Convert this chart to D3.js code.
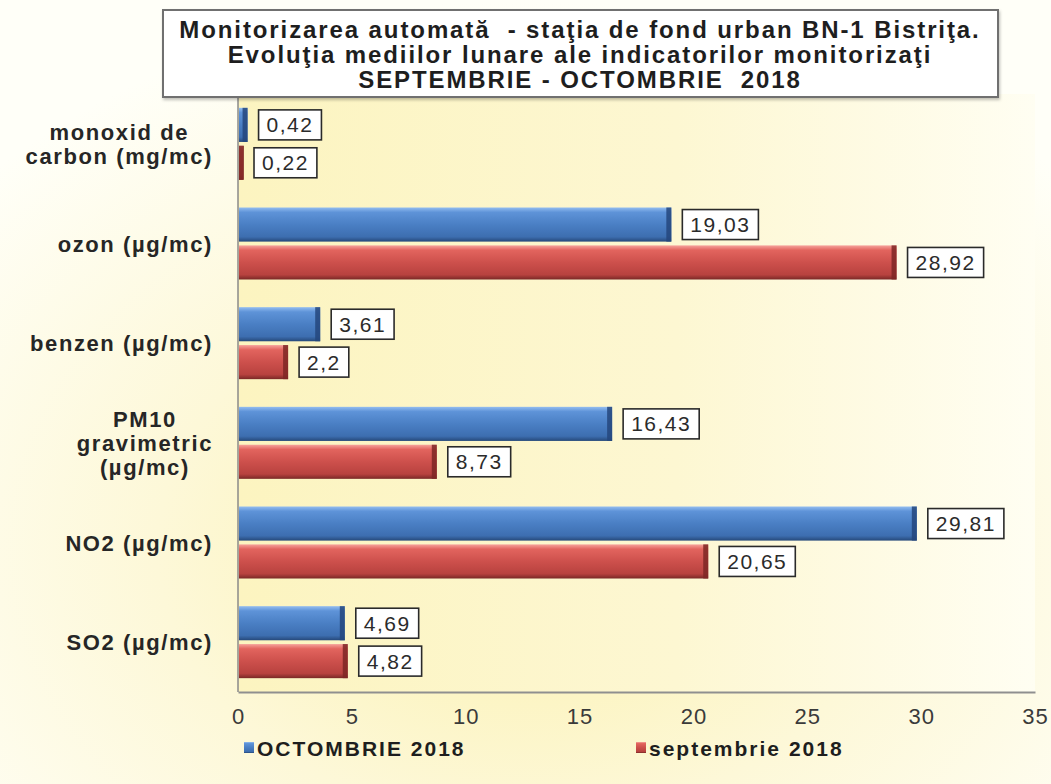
<!DOCTYPE html>
<html>
<head>
<meta charset="utf-8">
<script src="https://cdn.jsdelivr.net/npm/d3@7"></script>
<style>
   body { margin: 0; background: #fffef4; }
   svg { display: block; font-family: "Liberation Sans", Arial, sans-serif; }
</style>
</head>
<body>
<svg id="chart" width="1051" height="784"></svg>
<script>
// DATA
var categories = ['monoxid de\ncarbon (mg/mc)', 'ozon (µg/mc)', 'benzen (µg/mc)',
   'PM10\ngravimetric\n(µg/mc)', 'NO2 (µg/mc)', 'SO2 (µg/mc)'];
var seriesNames = ['OCTOMBRIE 2018', 'septembrie 2018'];
var octombrie = [0.42, 19.03, 3.61, 16.43, 29.81, 4.69];
var septembrie = [0.22, 28.92, 2.2, 8.73, 20.65, 4.82];
var xTicks = [0, 5, 10, 15, 20, 25, 30, 35];
var titleLines = ['Monitorizarea automată  - staţia de fond urban BN-1 Bistriţa.',
   'Evoluţia mediilor lunare ale indicatorilor monitorizaţi',
   'SEPTEMBRIE - OCTOMBRIE  2018'];

var svg = d3.select('#chart');
var W = +svg.attr('width'), H = +svg.attr('height');
var plot = {left: 238, right: 1035, top: 94, bottom: 692};

var defs = svg.append('defs');

// background
var bg = defs.append('radialGradient').attr('id', 'bg')
   .attr('cx', '0.5').attr('cy', '0.7').attr('r', '0.7');
bg.append('stop').attr('offset', '0%').attr('stop-color', '#fbf1ae');
bg.append('stop').attr('offset', '50%').attr('stop-color', '#fdf8d8');
bg.append('stop').attr('offset', '100%').attr('stop-color', '#fffff8');

var plotBg = defs.append('linearGradient').attr('id', 'plotbg')
   .attr('x1', 0).attr('x2', 1).attr('y1', 0).attr('y2', 0);
plotBg.append('stop').attr('offset', '0%').attr('stop-color', '#fcf4c0');
plotBg.append('stop').attr('offset', '55%').attr('stop-color', '#fdf7d2');
plotBg.append('stop').attr('offset', '100%').attr('stop-color', '#fffef2');

// bar gradients (3D look)
var barStyles = [
   {id: 'gBlue', stops: ['#93bdf0', '#5e93d8', '#4a7fc4', '#3d6eb0', '#26497a'], cap: '#24467c'},
   {id: 'gRed', stops: ['#f6a39c', '#e2645e', '#cd504c', '#b8423f', '#7a2826'], cap: '#7e2725'}
];
barStyles.forEach(function (s) {
   var g = defs.append('linearGradient').attr('id', s.id)
      .attr('x1', 0).attr('x2', 0).attr('y1', 0).attr('y2', 1);
   [0, 0.14, 0.5, 0.86, 1].forEach(function (o, i) {
      g.append('stop').attr('offset', o).attr('stop-color', s.stops[i]);
   });
});

var shadow = defs.append('filter').attr('id', 'shadow')
   .attr('x', '-5%').attr('y', '-5%').attr('width', '110%').attr('height', '120%');
shadow.append('feDropShadow').attr('dx', 1).attr('dy', 2).attr('stdDeviation', 1.5)
   .attr('flood-color', '#000').attr('flood-opacity', 0.25);

svg.append('rect').attr('width', W).attr('height', H).attr('fill', 'url(#bg)');

svg.append('rect')
   .attr('x', plot.left).attr('y', plot.top)
   .attr('width', plot.right - plot.left).attr('height', plot.bottom - plot.top)
   .attr('fill', 'url(#plotbg)');

// SCALES
var x = d3.scaleLinear().domain([0, 35]).range([plot.left, plot.right]);
var y = d3.scaleBand().domain(categories).range([plot.top, plot.bottom]);
var sub = d3.scaleBand().domain(seriesNames)
   .range([y.bandwidth() / 2 - 36, y.bandwidth() / 2 + 36]).paddingInner(0.1);

var rows = categories.map(function (c, i) {
   return [
      {cat: c, key: seriesNames[0], value: octombrie[i], style: barStyles[0]},
      {cat: c, key: seriesNames[1], value: septembrie[i], style: barStyles[1]}
   ];
});
var bars = d3.merge(rows);

// BARS
var barG = svg.append('g').selectAll('g.bar').data(bars).enter().append('g')
   .attr('class', 'bar')
   .attr('transform', function (d) {
      return 'translate(0,' + (y(d.cat) + sub(d.key)) + ')';
   });

barG.append('rect')
   .attr('x', x(0) + 1)
   .attr('width', function (d) { return Math.max(2, x(d.value) - x(0) - 1); })
   .attr('height', sub.bandwidth())
   .attr('fill', function (d) { return 'url(#' + d.style.id + ')'; });

barG.append('rect')
   .attr('x', function (d) { return Math.max(x(0) + 1, x(d.value) - 5); })
   .attr('width', function (d) { return Math.min(5, x(d.value) - x(0)); })
   .attr('height', sub.bandwidth())
   .attr('fill', function (d) { return d.style.cap; })
   .attr('opacity', 0.85);

// VALUE LABELS
var lab = barG.append('g')
   .attr('transform', function (d) {
      return 'translate(' + (x(d.value) + 11) + ',' + (sub.bandwidth() / 2) + ')';
   });
lab.append('rect')
   .attr('y', -15).attr('height', 30)
   .attr('fill', '#fff').attr('stroke', '#2a2a2a').attr('stroke-width', 1.6);
var labText = lab.append('text')
   .attr('y', 7.5)
   .attr('text-anchor', 'middle')
   .style('font-size', '21px').style('letter-spacing', '1.5px').attr('fill', '#2b2b2b')
   .text(function (d) { return String(d.value).replace('.', ','); });
labText.each(function () {
   var w = this.getComputedTextLength() + 16;
   d3.select(this).attr('x', w / 2);
   d3.select(this.parentNode).select('rect').attr('width', w);
});

// AXES
svg.append('line')
   .attr('x1', plot.left).attr('x2', plot.left)
   .attr('y1', plot.top).attr('y2', plot.bottom)
   .attr('stroke', '#8a8a8a').attr('stroke-width', 1.5);

var xAxis = d3.axisBottom(x).tickValues(xTicks).tickSize(0).tickPadding(16)
   .tickFormat(d3.format('d'));
var xg = svg.append('g')
   .attr('transform', 'translate(0,' + plot.bottom + ')')
   .call(xAxis);
xg.select('.domain').attr('stroke', '#8f8f8f').attr('stroke-width', 2);
xg.selectAll('.tick text')
   .style('font-size', '22px').style('font-family', '"Liberation Sans", Arial, sans-serif')
   .style('letter-spacing', '1px').attr('fill', '#3a3a3a');

// category labels: block right-aligned, lines centred in block
var catG = svg.append('g').selectAll('g.cat').data(categories).enter().append('g')
   .attr('class', 'cat');
catG.each(function (c) {
   var g = d3.select(this);
   var lines = c.split('\n');
   var lh = 24;
   var cy = y(c) + y.bandwidth() / 2;
   var texts = lines.map(function (l, i) {
      return g.append('text')
         .attr('y', cy + (i - (lines.length - 1) / 2) * lh + 8)
         .attr('text-anchor', 'middle')
         .style('font-size', '22px').style('font-weight', 'bold').style('letter-spacing', '1.6px')
         .attr('fill', '#262626')
         .text(l);
   });
   var widths = texts.map(function (t) { return t.node().getComputedTextLength(); });
   var blockW = d3.max(widths);
   texts.forEach(function (t) { t.attr('x', 213 - blockW / 2); });
});

// TITLE
var tg = svg.append('g');
tg.append('rect')
   .attr('x', 163).attr('y', 10).attr('width', 835).attr('height', 87)
   .attr('fill', '#fff').attr('stroke', '#6f6f6f').attr('stroke-width', 2)
   .attr('filter', 'url(#shadow)');
tg.selectAll('text').data(titleLines).enter().append('text')
   .attr('x', 580).attr('y', function (d, i) { return 38 + i * 25; })
   .attr('text-anchor', 'middle')
   .style('font-size', '24px').style('font-weight', 'bold').style('letter-spacing', '1.9px')
   .attr('fill', '#1e1e1e')
   .style('white-space', 'pre')
   .text(function (d) { return d; });

// LEGEND
var legendX = [244, 636];
var lg = svg.append('g').selectAll('g.legend').data(barStyles).enter().append('g')
   .attr('transform', function (d, i) { return 'translate(' + legendX[i] + ',748)'; });
lg.append('rect').attr('x', 0).attr('y', -6).attr('width', 10).attr('height', 11)
   .attr('fill', function (d) { return 'url(#' + d.id + ')'; });
lg.append('text').attr('x', 13).attr('y', 8)
   .style('font-size', '21px').style('font-weight', 'bold').style('letter-spacing', '2px')
   .attr('fill', '#1e1e1e')
   .text(function (d, i) { return seriesNames[i]; });
</script>
</body>
</html>
